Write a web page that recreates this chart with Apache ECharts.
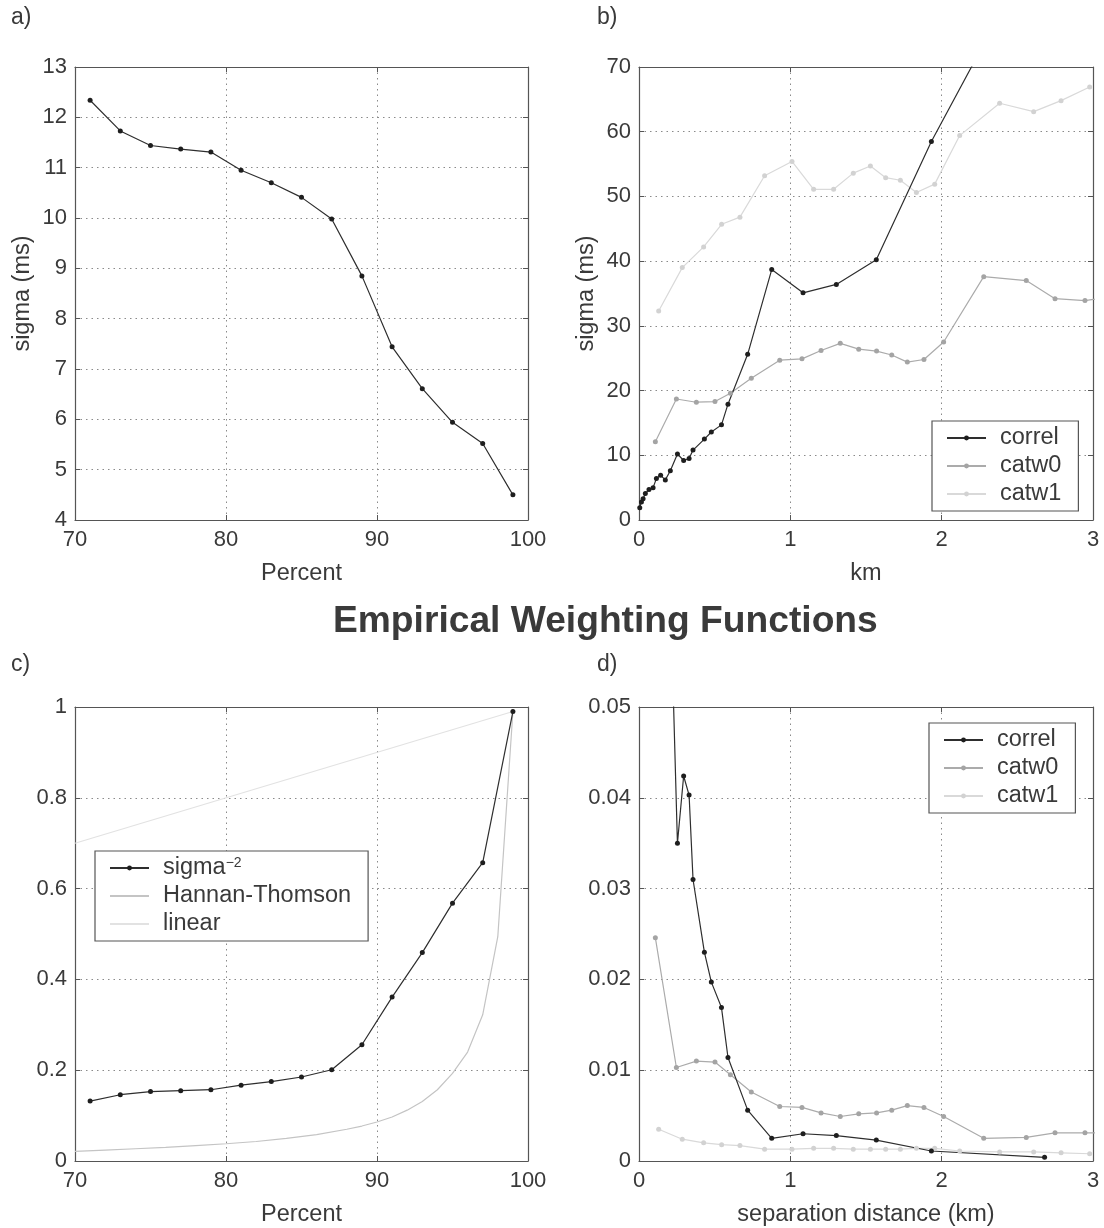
<!DOCTYPE html>
<html>
<head>
<meta charset="utf-8">
<script src="https://cdn.jsdelivr.net/npm/echarts@6/dist/echarts.min.js"></script>
<style>html,body{margin:0;padding:0;background:#fff}#c{width:1104px;height:1228px}</style>
</head>
<body>
<div id="c"></div>
<script>
// ---------- data ----------
// a) sigma vs percent
const aPercent = [71, 73, 75, 77, 79, 81, 83, 85, 87, 89, 91, 93, 95, 97, 99];
const aSigma = [12.34, 11.73, 11.44, 11.37, 11.31, 10.95, 10.70, 10.41, 9.98, 8.85, 7.44, 6.61, 5.94, 5.52, 4.50];

// b) sigma vs km
const bCorrelKm = [0.005, 0.016, 0.027, 0.042, 0.066, 0.093, 0.115, 0.143, 0.174, 0.207, 0.254, 0.295, 0.331, 0.357, 0.432, 0.478, 0.545, 0.588, 0.718, 0.877, 1.084, 1.304, 1.568, 1.932, 2.68];
const bCorrelSigma = [1.9, 2.8, 3.3, 4.1, 4.7, 5.0, 6.4, 6.9, 6.2, 7.6, 10.2, 9.2, 9.5, 10.8, 12.5, 13.6, 14.7, 17.9, 25.6, 38.7, 35.1, 36.4, 40.2, 58.5, 91];
const bCatw0Km = [0.108, 0.247, 0.379, 0.502, 0.604, 0.742, 0.930, 1.077, 1.203, 1.330, 1.452, 1.570, 1.670, 1.773, 1.883, 2.013, 2.278, 2.559, 2.749, 2.947, 3.14];
const bCatw0Sigma = [12.1, 18.7, 18.2, 18.3, 19.6, 21.9, 24.7, 24.9, 26.2, 27.3, 26.4, 26.1, 25.5, 24.4, 24.8, 27.5, 37.6, 37.0, 34.2, 33.9, 34.6];
const bCatw1Km = [0.130, 0.286, 0.427, 0.546, 0.667, 0.830, 1.011, 1.154, 1.286, 1.416, 1.529, 1.630, 1.727, 1.833, 1.954, 2.119, 2.383, 2.608, 2.789, 2.978];
const bCatw1Sigma = [32.3, 39.0, 42.2, 45.7, 46.8, 53.2, 55.4, 51.1, 51.1, 53.6, 54.7, 52.9, 52.5, 50.6, 51.9, 59.4, 64.4, 63.1, 64.8, 66.9];

// c) weights vs percent
const cSigmaInvPercent = [71, 73, 75, 77, 79, 81, 83, 85, 87, 89, 91, 93, 95, 97, 99];
const cSigmaInv = [0.132, 0.146, 0.153, 0.155, 0.157, 0.167, 0.175, 0.185, 0.201, 0.256, 0.361, 0.459, 0.568, 0.657, 0.990];
const cHTPercent = [70, 72, 74, 76, 78, 80, 82, 84, 86, 88, 89, 90, 91, 92, 93, 94, 95, 96, 97, 98, 99];
const cHT = [0.021, 0.024, 0.027, 0.030, 0.034, 0.038, 0.043, 0.050, 0.058, 0.070, 0.077, 0.086, 0.097, 0.112, 0.131, 0.157, 0.193, 0.240, 0.322, 0.494, 0.990];
const cLinearPercent = [70, 99];
const cLinear = [0.70, 0.99];

// d) weights vs separation distance
const dCorrelKm = [0.207, 0.254, 0.295, 0.331, 0.357, 0.432, 0.478, 0.545, 0.588, 0.718, 0.877, 1.084, 1.304, 1.568, 1.932, 2.68];
const dCorrelW = [0.063, 0.035, 0.0424, 0.0403, 0.0310, 0.0230, 0.0197, 0.0169, 0.0114, 0.0056, 0.0025, 0.0030, 0.0028, 0.0023, 0.0011, 0.0004];
const dCatw0Km = [0.108, 0.247, 0.379, 0.502, 0.604, 0.742, 0.930, 1.077, 1.203, 1.330, 1.452, 1.570, 1.670, 1.773, 1.883, 2.013, 2.278, 2.559, 2.749, 2.947, 3.14];
const dCatw0W = [0.0246, 0.0103, 0.0110, 0.0109, 0.0095, 0.0076, 0.0060, 0.0059, 0.0053, 0.0049, 0.0052, 0.0053, 0.0056, 0.0061, 0.0059, 0.0049, 0.0025, 0.0026, 0.0031, 0.0031, 0.0031];
const dCatw1Km = [0.130, 0.286, 0.427, 0.546, 0.667, 0.830, 1.011, 1.154, 1.286, 1.416, 1.529, 1.630, 1.727, 1.833, 1.954, 2.119, 2.383, 2.608, 2.789, 2.978];
const dCatw1W = [0.0035, 0.0024, 0.0020, 0.0018, 0.0017, 0.0013, 0.0013, 0.0014, 0.0014, 0.0013, 0.0013, 0.0013, 0.0013, 0.0014, 0.0014, 0.0011, 0.0010, 0.0010, 0.0009, 0.0008];

const panelLabels = ['a)', 'b)', 'c)', 'd)'];
const mainTitle = 'Empirical Weighting Functions';

// ---------- styling ----------
const FONT = 'Liberation Sans, Arial, Helvetica, sans-serif';
const TXT = '#3a3a3a';
const AX = '#555';
const C_DARK = '#2e2e2e', C_MID = '#ababab', C_LIGHT = '#d9d9d9';
const C_HT = '#c4c4c4', C_LIN = '#e2e2e2';
const NAME_SIZE = 23.5;

const pairs = (xs, ys) => xs.map((x, i) => [x, ys[i]]);

const grids = [
  {left: 75, top: 67, width: 453, height: 453},
  {left: 639, top: 67, width: 454, height: 453},
  {left: 75, top: 707, width: 453, height: 454},
  {left: 639, top: 707, width: 454, height: 454}
];

const xAxes = [], yAxes = [];
function addAxes(g, xr, yr, xname, yname) {
  const common = {
    gridIndex: g, type: 'value',
    axisLine: {show: true, onZero: false, lineStyle: {color: AX, width: 1.2}},
    axisTick: {show: true, inside: true, length: 5, lineStyle: {color: AX}},
    splitLine: {show: false}
  };
  xAxes.push(Object.assign({}, common, {
    position: 'bottom', min: xr[0], max: xr[1], interval: xr[2],
    axisLabel: {fontSize: 22, color: TXT, fontFamily: FONT, margin: 9},
    splitLine: {show: true, lineStyle: {type: [1.5, 4], color: '#8a8a8a', width: 1}},
    name: xname, nameLocation: 'middle', nameGap: 42,
    nameTextStyle: {fontSize: NAME_SIZE, color: TXT, fontFamily: FONT}
  }));
  xAxes.push(Object.assign({}, common, {
    position: 'top', min: xr[0], max: xr[1], interval: xr[2],
    axisLabel: {show: false}
  }));
  yAxes.push(Object.assign({}, common, {
    position: 'left', min: yr[0], max: yr[1], interval: yr[2],
    axisLabel: {fontSize: 22, color: TXT, fontFamily: FONT, margin: 8},
    splitLine: {show: true, lineStyle: {type: [1.5, 4], color: '#8a8a8a', width: 1}},
    name: yname, nameLocation: 'middle', nameGap: 40,
    nameTextStyle: {fontSize: NAME_SIZE, color: TXT, fontFamily: FONT}
  }));
  yAxes.push(Object.assign({}, common, {
    position: 'right', min: yr[0], max: yr[1], interval: yr[2],
    axisLabel: {show: false}
  }));
}
addAxes(0, [70, 100, 10], [4, 13, 1], 'Percent', 'sigma (ms)');
addAxes(1, [0, 3, 1], [0, 70, 10], 'km', 'sigma (ms)');
addAxes(2, [70, 100, 10], [0, 1, 0.2], 'Percent', '');
addAxes(3, [0, 3, 1], [0, 0.05, 0.01], 'separation distance (km)', '');

function lineSeries(g, name, data, color, symColor, withSym, width) {
  return {
    type: 'line', name: name, xAxisIndex: 2 * g, yAxisIndex: 2 * g,
    data: data, clip: true, animation: false,
    symbol: withSym ? 'circle' : 'none', symbolSize: 5, showSymbol: withSym,
    lineStyle: {color: color, width: width || 1.2},
    itemStyle: {color: symColor, borderWidth: 0},
    emphasis: {disabled: true}
  };
}

const series = [
  lineSeries(0, 'a', pairs(aPercent, aSigma), C_DARK, '#1e1e1e', true),
  lineSeries(1, 'catw1', pairs(bCatw1Km, bCatw1Sigma), C_LIGHT, '#d2d2d2', true),
  lineSeries(1, 'catw0', pairs(bCatw0Km, bCatw0Sigma), C_MID, '#a4a4a4', true),
  lineSeries(1, 'correl', pairs(bCorrelKm, bCorrelSigma), C_DARK, '#1e1e1e', true),
  lineSeries(2, 'linear', pairs(cLinearPercent, cLinear), C_LIN, C_LIN, false),
  lineSeries(2, 'Hannan-Thomson', pairs(cHTPercent, cHT), C_HT, C_HT, false),
  lineSeries(2, 'sigma-2', pairs(cSigmaInvPercent, cSigmaInv), C_DARK, '#1e1e1e', true),
  lineSeries(3, 'catw1', pairs(dCatw1Km, dCatw1W), C_LIGHT, '#d2d2d2', true),
  lineSeries(3, 'catw0', pairs(dCatw0Km, dCatw0W), C_MID, '#a4a4a4', true),
  lineSeries(3, 'correl', pairs(dCorrelKm, dCorrelW), C_DARK, '#1e1e1e', true)
];

function legend(left, top, names) {
  return {
    show: true, orient: 'vertical', left: left, top: top, data: names,
    selectedMode: false, backgroundColor: '#fff',
    borderColor: AX, borderWidth: 1.2, borderRadius: 0,
    padding: [5, 17, 5, 14], itemGap: 4, itemWidth: 39, itemHeight: 6,
    textStyle: {fontSize: NAME_SIZE, color: TXT, fontFamily: FONT, padding: [0, 0, 0, 9], lineHeight: 24,
      rich: {
        base: {fontSize: NAME_SIZE, color: TXT, fontFamily: FONT, lineHeight: 24},
        sup: {fontSize: 14, color: TXT, fontFamily: FONT, verticalAlign: 'top', lineHeight: 12}
      }},
    formatter: function (n) { return n === 'sigma-2' ? '{base|sigma}{sup|\u22122}' : n; }
  };
}

function txt(x, y, s, size, weight) {
  return {type: 'text', left: x, top: y, silent: true,
    style: {text: s, fill: TXT, font: (weight || 'normal') + ' ' + size + 'px ' + FONT}};
}

const noDot = {color: 'rgba(0,0,0,0)', opacity: 0};

const chart = echarts.init(document.getElementById('c'), null, {renderer: 'canvas'});
chart.setOption({
  backgroundColor: '#fff',
  animation: false,
  grid: grids,
  xAxis: xAxes,
  yAxis: yAxes,
  series: series,
  legend: [
    legend(932, 421, ['correl', 'catw0', 'catw1']),
    legend(95, 851, ['sigma-2',
      {name: 'Hannan-Thomson', itemStyle: noDot},
      {name: 'linear', itemStyle: noDot}]),
    legend(929, 723, ['correl', 'catw0', 'catw1'])
  ],
  graphic: [
    txt(11, 6, panelLabels[0], 23),
    txt(597, 6, panelLabels[1], 23),
    txt(11, 653, panelLabels[2], 23),
    txt(597, 653, panelLabels[3], 23),
    txt(333, 603, mainTitle, 37.2, 'bold')
  ]
});
</script>
</body>
</html>
